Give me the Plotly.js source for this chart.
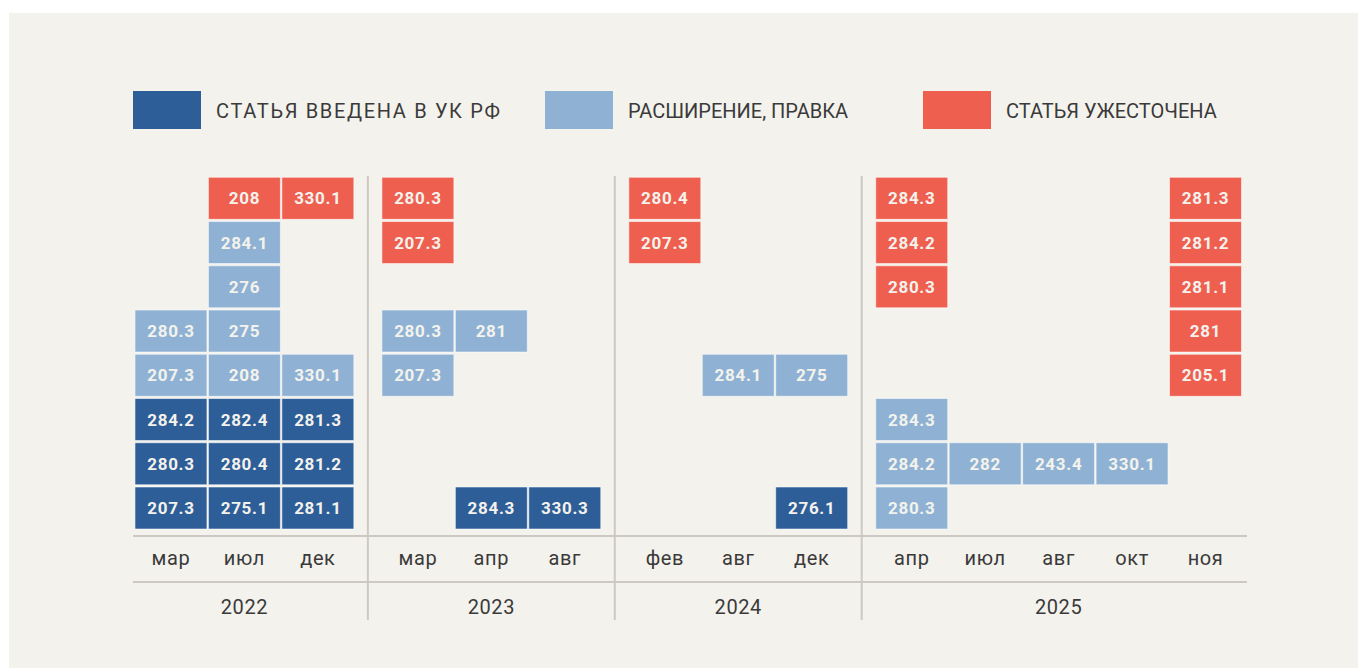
<!DOCTYPE html>
<html>
<head>
<meta charset="utf-8">
<script src="https://cdn.plot.ly/plotly-3.0.1.min.js"></script>
<style>
  html, body { margin: 0; padding: 0; background: #ffffff; }
  #chart { position: absolute; left: 9px; top: 13px; width: 1349px; height: 655px; }
  .legendtext { letter-spacing: 1.6px; }
  .xtick text, .x2tick text { letter-spacing: 0.6px; }
  .bartext { letter-spacing: 0.7px; }
</style>
</head>
<body>
<div id="chart"></div>
<script>
// ---------- data ----------
const years  = ['2022', '2023', '2024', '2025'];
const months = [
  ['мар', 'июл', 'дек'],
  ['мар', 'апр', 'авг'],
  ['фев', 'авг', 'дек'],
  ['апр', 'июл', 'авг', 'окт', 'ноя']
];
const kindNames  = ['СТАТЬЯ ВВЕДЕНА В УК РФ', 'РАСШИРЕНИЕ, ПРАВКА', 'СТАТЬЯ УЖЕСТОЧЕНА'];
const kindColors = ['#2e5e98', '#8fb2d4', '#ee5f50'];

// one entry per cell: year, month, stack level (0 = bottom), kind index, article
const cellYear  = [
  '2022','2022','2022','2022','2022',
  '2022','2022','2022','2022','2022','2022','2022','2022',
  '2022','2022','2022','2022','2022',
  '2023','2023','2023','2023',
  '2023','2023',
  '2023',
  '2024','2024',
  '2024',
  '2024','2024',
  '2025','2025','2025','2025','2025','2025',
  '2025',
  '2025',
  '2025',
  '2025','2025','2025','2025','2025'
];
const cellMonth = [
  'мар','мар','мар','мар','мар',
  'июл','июл','июл','июл','июл','июл','июл','июл',
  'дек','дек','дек','дек','дек',
  'мар','мар','мар','мар',
  'апр','апр',
  'авг',
  'фев','фев',
  'авг',
  'дек','дек',
  'апр','апр','апр','апр','апр','апр',
  'июл',
  'авг',
  'окт',
  'ноя','ноя','ноя','ноя','ноя'
];
const cellLevel = [
  0,1,2,3,4,
  0,1,2,3,4,5,6,7,
  0,1,2,3,7,
  3,4,6,7,
  0,4,
  0,
  6,7,
  3,
  0,3,
  0,1,2,5,6,7,
  1,
  1,
  1,
  3,4,5,6,7
];
const cellKind = [
  0,0,0,1,1,
  0,0,0,1,1,1,1,2,
  0,0,0,1,2,
  1,1,2,2,
  0,1,
  0,
  2,2,
  1,
  0,1,
  1,1,1,2,2,2,
  1,
  1,
  1,
  2,2,2,2,2
];
const cellArticle = [
  '207.3','280.3','284.2','207.3','280.3',
  '275.1','280.4','282.4','208','275','276','284.1','208',
  '281.1','281.2','281.3','330.1','330.1',
  '207.3','280.3','207.3','280.3',
  '284.3','281',
  '330.3',
  '207.3','280.4',
  '284.1',
  '276.1','275',
  '280.3','284.2','284.3','280.3','284.2','284.3',
  '282',
  '243.4',
  '330.1',
  '205.1','281','281.1','281.2','281.3'
];

// ---------- layout helpers ----------
const GROUP_GAP = 0.362;
const colPos = {};         // "year|month" -> x
const tickPos = [], tickText = [];
const yearCenter = [], sepPos = [];
let cursor = 0;
years.forEach((yr, gi) => {
  if (gi > 0) {
    sepPos.push(cursor - 1 + (1 + GROUP_GAP) / 2);
    cursor += GROUP_GAP;
  }
  const start = cursor;
  months[gi].forEach(m => {
    colPos[yr + '|' + m] = cursor;
    tickPos.push(cursor); tickText.push(m);
    cursor += 1;
  });
  yearCenter.push((start + cursor - 1) / 2);
});
const xMin = tickPos[0] - 0.517, xMax = tickPos[tickPos.length - 1] + 0.565;

const CELL_H = 0.95, CELL_W = 0.98;
const traces = kindNames.map((name, k) => {
  const xs = [], ys = [], bs = [], tx = [];
  cellKind.forEach((kk, i) => {
    if (kk !== k) return;
    xs.push(colPos[cellYear[i] + '|' + cellMonth[i]]);
    ys.push(CELL_H);
    bs.push(cellLevel[i] - CELL_H / 2);
    tx.push(cellArticle[i]);
  });
  return {
    type: 'bar', name: name, x: xs, y: ys, base: bs, width: CELL_W,
    text: tx, textposition: 'inside', insidetextanchor: 'middle', textangle: 0,
    constraintext: 'none',
    textfont: { family: 'Roboto, sans-serif', size: 17, color: '#f4f2ed', weight: 700 },
    marker: { color: kindColors[k], line: { color: 'rgba(255,255,255,0.55)', width: 1 } },
    hoverinfo: 'skip',
    legend: k === 0 ? 'legend' : 'legend' + (k + 1)
  };
});

const BG = '#f4f2ed', LINE = '#cdc9c2', TXT = '#3a3a3a';
const W = 1349, H = 655;
const legendCommon = {
  orientation: 'h', xref: 'container', yref: 'container',
  xanchor: 'left', yanchor: 'middle', y: (668 - 110) / H,
  bgcolor: 'rgba(0,0,0,0)', borderwidth: 0, itemwidth: 78,
  font: { family: 'Roboto, sans-serif', size: 20, color: TXT },
  itemclick: false, itemdoubleclick: false
};
const swatchLeft = [133, 545, 923];
const legendTextWidth = [284, 252, 239];
const layout = {
  width: W, height: H,
  paper_bgcolor: BG, plot_bgcolor: BG,
  margin: { l: 124, r: 111, t: 161, b: 40 },
  barmode: 'overlay', showlegend: true,
  legend:  Object.assign({}, legendCommon, { x: (swatchLeft[0] - 9 - 5) / W }),
  legend2: Object.assign({}, legendCommon, { x: (swatchLeft[1] - 9 - 5) / W }),
  legend3: Object.assign({}, legendCommon, { x: (swatchLeft[2] - 9 - 5) / W }),
  xaxis: {
    range: [xMin, xMax], anchor: 'y', showgrid: false, zeroline: false,
    showline: true, linecolor: LINE, linewidth: 2,
    tickmode: 'array', tickvals: tickPos, ticktext: tickText,
    ticks: '', ticklabelstandoff: 4,
    tickfont: { family: 'Roboto, sans-serif', size: 20, color: TXT },
    fixedrange: true
  },
  xaxis2: {
    range: [xMin, xMax], anchor: 'free', position: (628 - 582) / 454, overlaying: 'x',
    side: 'bottom', showgrid: false, zeroline: false,
    showline: true, linecolor: LINE, linewidth: 2,
    tickmode: 'array', tickvals: yearCenter, ticktext: years,
    ticks: '', ticklabelstandoff: 7,
    tickfont: { family: 'Roboto, sans-serif', size: 20, color: TXT },
    fixedrange: true
  },
  yaxis: {
    domain: [(628 - 535) / 454, 1], range: [-0.61, 7.55],
    visible: false, showgrid: false, zeroline: false, fixedrange: true
  },
  shapes: sepPos.map(x => ({
    type: 'line', xref: 'x', yref: 'paper', x0: x, x1: x,
    y0: (628 - 620) / 454, y1: (628 - 176) / 454,
    line: { color: LINE, width: 2 }, layer: 'below'
  }))
};

// an invisible trace on xaxis2 so the year axis is drawn
traces.push({ type: 'scatter', x: yearCenter, y: yearCenter.map(() => null), xaxis: 'x2', yaxis: 'y',
  showlegend: false, hoverinfo: 'skip', mode: 'markers' });

function styleLegend(gd) {
  gd.querySelectorAll('.scrollbox').forEach(el => el.removeAttribute('clip-path'));
  gd.querySelectorAll('.legendpoints path').forEach(p => {
    p.setAttribute('d', 'M-39,-19H29V19H-39Z');
    p.style.strokeWidth = '0';
  });
  const norm = s => (s || '').replace(/\s+/g, ' ').trim();
  const names = kindNames.map(norm);
  gd.querySelectorAll('text.legendtext').forEach((t, idx) => {
    let k = names.indexOf(norm(t.textContent));
    if (k < 0) k = idx;
    if (k < legendTextWidth.length) {
      t.style.letterSpacing = '0px';
      t.setAttribute('textLength', String(legendTextWidth[k]));
      t.setAttribute('lengthAdjust', 'spacing');
    }
  });
}

Plotly.newPlot('chart', traces, layout, { displayModeBar: false, staticPlot: true }).then(gd => {
  styleLegend(gd);
  gd.on('plotly_afterplot', () => styleLegend(gd));
  setTimeout(() => styleLegend(gd), 30);
});
</script>
</body>
</html>
